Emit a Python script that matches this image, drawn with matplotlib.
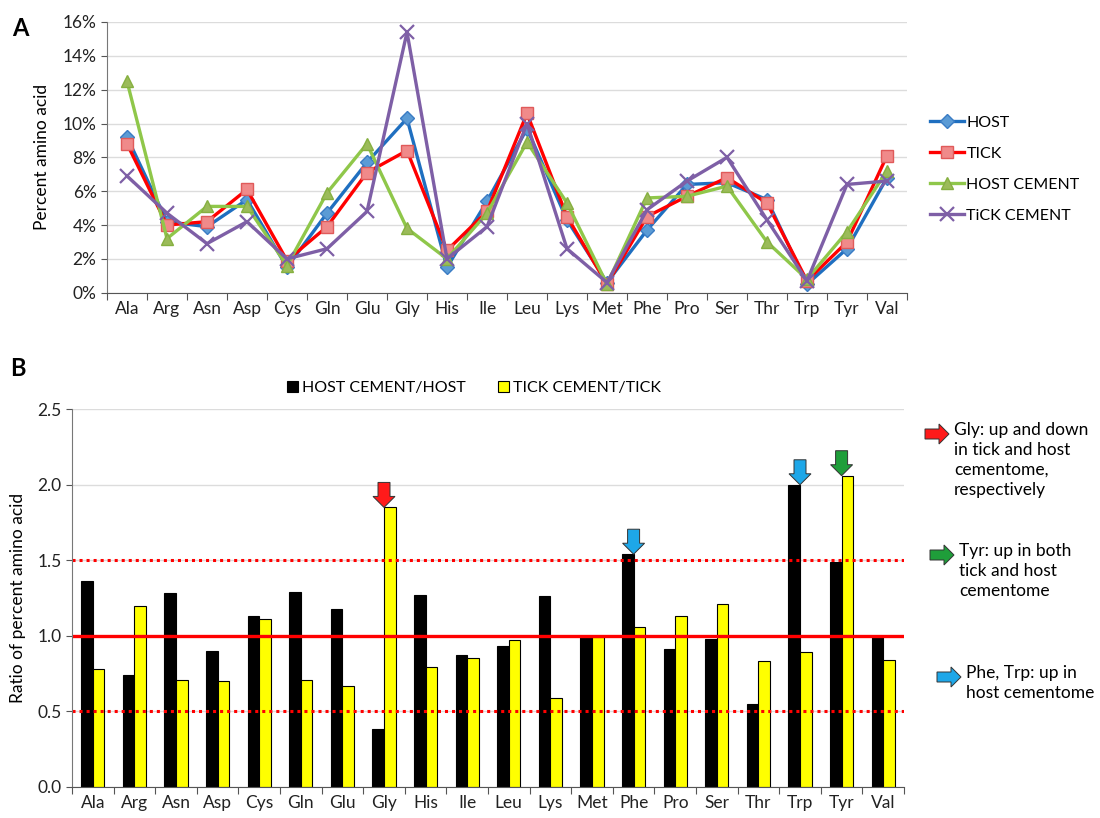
import numpy as np
import matplotlib
matplotlib.use("Agg")
import matplotlib.pyplot as plt
from matplotlib.patches import Polygon
from matplotlib.transforms import Affine2D, ScaledTranslation

amino = ["Ala", "Arg", "Asn", "Asp", "Cys", "Gln", "Glu", "Gly", "His", "Ile",
         "Leu", "Lys", "Met", "Phe", "Pro", "Ser", "Thr", "Trp", "Tyr", "Val"]

# percent amino acid composition
host = [9.2, 4.2, 3.9, 5.5, 1.5, 4.7, 7.7, 10.3, 1.5, 5.4,
        9.7, 4.3, 0.6, 3.7, 6.4, 6.5, 5.5, 0.5, 2.6, 6.8]
tick = [8.8, 4.0, 4.2, 6.1, 1.9, 3.9, 7.1, 8.4, 2.5, 4.8,
        10.6, 4.5, 0.5, 4.5, 5.7, 6.8, 5.3, 0.7, 3.0, 8.1]
host_cement = [12.5, 3.2, 5.1, 5.1, 1.6, 5.9, 8.8, 3.8, 2.0, 4.7,
               8.9, 5.3, 0.5, 5.6, 5.7, 6.3, 3.0, 0.8, 3.6, 7.2]
tick_cement = [6.9, 4.7, 2.9, 4.2, 2.0, 2.6, 4.8, 15.4, 2.0, 3.9,
               10.0, 2.6, 0.6, 4.9, 6.6, 8.0, 4.3, 0.7, 6.4, 6.6]

# cement / source ratios
ratio_host = [1.36, 0.74, 1.28, 0.90, 1.13, 1.29, 1.18, 0.38, 1.27, 0.87,
              0.93, 1.26, 0.99, 1.54, 0.91, 0.98, 0.55, 2.00, 1.49, 1.00]
ratio_tick = [0.78, 1.20, 0.71, 0.70, 1.11, 0.71, 0.67, 1.85, 0.79, 0.85,
              0.97, 0.59, 0.99, 1.06, 1.13, 1.21, 0.83, 0.89, 2.06, 0.84]

# residue, colour for the down arrows in panel B
highlights = [("Gly", "#ff1a1a"), ("Phe", "#1ea7e8"), ("Trp", "#1ea7e8"), ("Tyr", "#1f9e3a")]

notes = [("#ff1a1a", "Gly: up and down\nin tick and host\ncementome,\nrespectively", 925, 434),
         ("#1f9e3a", "Tyr: up in both\ntick and host\ncementome", 930, 555),
         ("#1ea7e8", "Phe, Trp: up in\nhost cementome", 937, 677)]

W, H = 1100, 818
FS = 12.5
plt.rcParams['font.family'] = ['Lato', 'DejaVu Sans']


def fx(px):
    return px / W


def fy(py):
    return 1 - py / H


def block_arrow(length=25, shaft=12, head_w=22, head_len=11):
    # pointing down, tip at the origin, units are pixels
    s, h = shaft / 2, head_w / 2
    return np.array([(0, 0), (-h, head_len), (-s, head_len), (-s, length),
                     (s, length), (s, head_len), (h, head_len)])


def category_axis(ax, n):
    ax.set_xlim(-0.5, n - 0.5)
    ax.set_xticks(np.arange(-0.5, n), labels=[""] * (n + 1))
    ax.set_xticks(np.arange(n), labels=amino, minor=True)
    ax.tick_params(axis="x", which="minor", length=0, labelsize=FS, pad=6, colors="#222222")
    ax.tick_params(axis="x", which="major", length=5, color="#555555")
    ax.tick_params(axis="y", length=4, color="#555555", labelsize=FS, labelcolor="#222222")
    for s in ["top", "right"]:
        ax.spines[s].set_visible(False)
    ax.spines["left"].set_color("#777777")
    ax.spines["bottom"].set_color("#555555")
    ax.yaxis.grid(True, color="#dcdcdc", lw=1)
    ax.set_axisbelow(True)


def panel_a(fig):
    ax = fig.add_axes([fx(107), fy(292.7), fx(907 - 107), (292.7 - 22) / H])
    x = np.arange(len(amino))
    ax.plot(x, host, color="#1f6fc0", lw=2.4, marker="D", ms=7, mfc="#5b9bd5", mec="#3a7cc4", label="HOST")
    ax.plot(x, tick, color="#ff0000", lw=2.4, marker="s", ms=9, mfc="#f08a8a", mec="#e05a5a", label="TICK")
    ax.plot(x, host_cement, color="#8fc74a", lw=2.4, marker="^", ms=9, mfc="#9bbb59", mec="#86b040", label="HOST CEMENT")
    ax.plot(x, tick_cement, color="#7e5fa6", lw=2.4, marker="x", ms=10, mew=1.6, label="TiCK CEMENT")
    ax.set_ylim(0, 16)
    ax.set_yticks(np.arange(0, 17, 2))
    ax.yaxis.set_major_formatter(lambda v, p: f"{v:.0f}%")
    category_axis(ax, len(amino))
    ax.set_ylabel("Percent amino acid", fontsize=FS, labelpad=9)
    ax.legend(loc="center left", bbox_to_anchor=(fx(916), fy(169)), bbox_transform=fig.transFigure,
              frameon=False, fontsize=11.5, handlelength=2.1, handletextpad=0.15, labelspacing=1.05)
    fig.text(fx(12), fy(28), "A", fontsize=17, fontweight="bold", va="center")


def panel_b(fig):
    ax = fig.add_axes([fx(72), fy(786.7), fx(904 - 72), (786.7 - 409.3) / H])
    x = np.arange(len(amino))
    w = 0.28
    ax.bar(x - w / 2, ratio_host, w, color="black", edgecolor="black", lw=0.8, label="HOST CEMENT/HOST")
    ax.bar(x + w / 2, ratio_tick, w, color="#ffff00", edgecolor="black", lw=0.8, label="TICK CEMENT/TICK")
    ax.axhline(1.0, color="#ff0000", lw=2.4)
    for level in (0.5, 1.5):
        ax.axhline(level, color="#ff0000", lw=2.2, ls=(0, (1, 1.3)))
    ax.set_ylim(0, 2.5)
    ax.set_yticks(np.arange(0, 2.6, 0.5))
    ax.yaxis.set_major_formatter(lambda v, p: f"{v:.1f}")
    category_axis(ax, len(amino))
    ax.set_ylabel("Ratio of percent amino acid", fontsize=FS, labelpad=8)
    ax.legend(loc="center", bbox_to_anchor=(fx(474), fy(388)), bbox_transform=fig.transFigure,
              ncol=2, frameon=False, fontsize=11.5, handlelength=0.7, handleheight=0.7,
              handletextpad=0.25, columnspacing=2.0)

    # down arrows over the highlighted residues
    down = block_arrow()
    for name, color in highlights:
        i = amino.index(name)
        top = max(ratio_host[i], ratio_tick[i])
        tr = Affine2D() + ScaledTranslation(i, top, ax.transData)
        ax.add_patch(Polygon(down, closed=True, transform=tr, fc=color, ec="#333333",
                             lw=0.7, clip_on=False, zorder=5))

    # key for the arrows on the right
    right = block_arrow(length=24, shaft=10, head_w=20, head_len=10)[:, ::-1] * [-1, 1]
    for color, text, px, py in notes:
        tr = Affine2D().translate(px + 24, H - py)
        fig.add_artist(Polygon(right, closed=True, transform=tr, fc=color, ec="#333333", lw=0.7))
        fig.text(fx(px + 29), fy(py - 12), text, fontsize=FS, va="top", ha="left", linespacing=1.3)
    fig.text(fx(10), fy(368), "B", fontsize=17, fontweight="bold", va="center")


def main():
    fig = plt.figure(figsize=(11, 8.18), dpi=100)
    panel_a(fig)
    panel_b(fig)
    fig.savefig("out.png", dpi=100)


main()
